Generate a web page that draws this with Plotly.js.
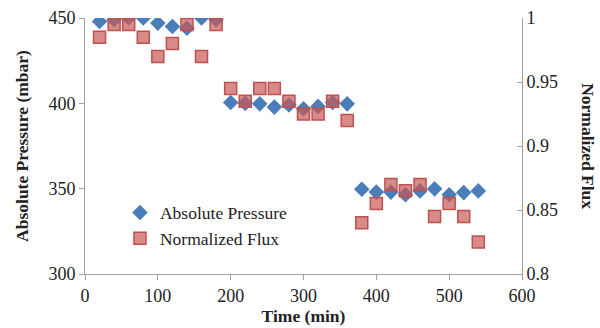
<!DOCTYPE html>
<html><head><meta charset="utf-8">
<script src="https://cdn.plot.ly/plotly-3.0.1.min.js"></script>
<style>body{margin:0;background:#fff}#c{width:600px;height:328px}</style>
</head><body><div id="c"></div>
<script>
const time = [20,40,60,80,100,120,140,160,180,200,220,240,260,280,300,320,340,360,380,400,420,440,460,480,500,520,540];
const pressure = [448,449,450,450,447,445,444,450,449,400.5,400,399.7,397.8,399,396.8,398.2,400.5,399.7,349.7,348,348,346.4,348.7,349.9,346.4,347.7,348.7];
const flux = [0.985,0.995,0.995,0.985,0.970,0.980,0.995,0.970,0.995,0.945,0.935,0.945,0.945,0.935,0.925,0.925,0.935,0.920,0.840,0.855,0.870,0.865,0.870,0.845,0.855,0.845,0.825];

const font = 'Liberation Serif, Times New Roman, serif';
const traces = [
  {x: time, y: pressure, name: 'Absolute Pressure', type: 'scatter', mode: 'markers',
   marker: {symbol: 'diamond', size: 12, color: '#4a7ebb'}},
  {x: time, y: flux, name: 'Normalized Flux', type: 'scatter', mode: 'markers', yaxis: 'y2',
   marker: {symbol: 'square', size: 12, color: 'rgba(200,90,86,0.7)', line: {color: '#c0504d', width: 1.5}}}
];
const layout = {
  width: 600, height: 328,
  margin: {l: 85, r: 78, t: 18, b: 54},
  paper_bgcolor: '#fff', plot_bgcolor: '#fff',
  font: {family: font, size: 18, color: '#222'},
  showlegend: true,
  legend: {x: 0.08, y: 0.31, xanchor: 'left', yanchor: 'top', bgcolor: 'rgba(0,0,0,0)',
           font: {family: font, size: 17.5, color: '#222'}, itemwidth: 30, tracegroupgap: 0},
  xaxis: {range: [0, 600], dtick: 100, showgrid: false, zeroline: false,
          showline: true, linecolor: '#a0a0a0', linewidth: 1, ticks: 'outside', ticklen: 5, tickcolor: '#a0a0a0',
          title: {text: '<b>Time (min)</b>', font: {family: font, size: 17.5, color: '#222'}, standoff: 2}},
  yaxis: {range: [300, 450], dtick: 50, showgrid: false, zeroline: false,
          showline: true, linecolor: '#a0a0a0', linewidth: 1, ticks: 'outside', ticklen: 5, tickcolor: '#a0a0a0',
          title: {text: '<b>Absolute Pressure (mbar)</b>', font: {family: font, size: 17.5, color: '#222'}, standoff: 15}},
  yaxis2: {range: [0.8, 1], dtick: 0.05, overlaying: 'y', side: 'right', showgrid: false, zeroline: false,
           showline: true, linecolor: '#a0a0a0', linewidth: 1, ticks: 'inside', ticklen: 5, tickcolor: '#a0a0a0'},
  annotations: [{text: '<b>Normalized Flux</b>', xref: 'paper', yref: 'paper', x: 1.178, y: 0.5,
                 textangle: 90, showarrow: false, font: {family: font, size: 17.5, color: '#222'}}]
};
Plotly.newPlot('c', traces, layout, {displayModeBar: false, staticPlot: true});
</script></body></html>
